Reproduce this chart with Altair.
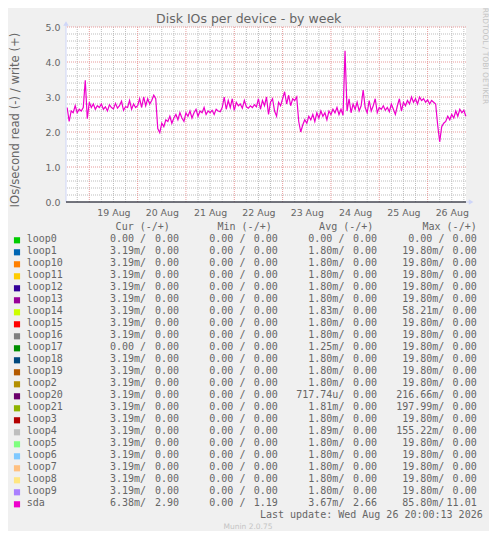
import json
import altair as alt
import pandas as pd

TITLE = "Disk IOs per device - by week"
Y_TITLE = "IOs/second read (-) / write (+)"
SIDE_TEXT = "RRDTOOL / TOBI OETIKER"
LAST_UPDATE = "Last update: Wed Aug 26 20:00:13 2026"
FOOTER = "Munin 2.0.75"

# x axis: hours since 18 Aug 00:00
x_start = 12.43
x_end = 211.07
day_labels = ["19 Aug", "20 Aug", "21 Aug", "22 Aug", "23 Aug", "24 Aug", "25 Aug", "26 Aug"]
day_label_hours = [36, 60, 84, 108, 132, 156, 180, 204]
midnight_hours = [24, 48, 72, 96, 120, 144, 168, 192]
six_hour_hours = [18, 30, 36, 42, 54, 60, 66, 78, 84, 90, 102, 108, 114, 126, 132, 138,
                  150, 156, 162, 174, 180, 186, 198, 204, 210]
y_major = [1, 2, 3, 4, 5]
y_minor = [0.2, 0.4, 0.6, 0.8, 1.2, 1.4, 1.6, 1.8, 2.2, 2.4, 2.6, 2.8, 3.2, 3.4, 3.6, 3.8,
           4.2, 4.4, 4.6, 4.8]
y_tick_values = [0, 1, 2, 3, 4, 5]

# sda write IOs/s, hourly from 18 Aug 13:00
sda_first_hour = 13
sda_write = [
    2.70, 2.30, 2.60, 2.55, 2.75, 2.55, 2.65, 2.60, 2.70, 3.48, 2.38,
    2.85, 2.70, 2.80, 2.65, 2.75, 2.70, 2.80, 2.65, 2.72, 2.60, 2.78, 2.70, 2.66,
    2.82, 2.68, 2.75, 2.88, 2.62, 2.72, 2.70, 2.90, 2.65, 2.80, 2.70, 2.75,
    2.95, 2.70, 3.00, 2.75, 2.95, 2.80, 2.90, 3.05, 2.95,
    2.10, 1.98, 2.25, 2.15, 2.35, 2.30, 2.45, 2.25, 2.40, 2.50, 2.35, 2.55, 2.40,
    2.30, 2.55, 2.45, 2.60, 2.40, 2.55, 2.65, 2.45, 2.60,
    2.55, 2.70, 2.50, 2.60, 2.55, 2.62, 2.50, 2.65, 2.60, 2.58, 2.70,
    3.00, 2.65, 2.90, 2.70, 2.95, 2.62, 2.85, 2.75, 2.80, 2.68,
    2.90, 2.72, 2.68, 2.75, 2.70, 2.78, 2.72, 2.95, 2.65, 2.90,
    2.75, 3.00, 2.50, 2.85, 2.95, 2.60, 2.45, 2.85, 2.75, 2.95, 3.15, 2.80, 3.05,
    2.75, 2.95, 2.90, 3.00,
    2.30, 2.00, 2.20, 2.35, 2.25, 2.45, 2.35, 2.50, 2.30, 2.55, 2.40, 2.60, 2.45,
    2.55, 2.35, 2.60, 2.50, 2.65,
    2.55, 2.70, 2.50, 2.65, 2.48,
    4.32, 2.60,
    2.95, 2.55, 2.80, 2.65, 2.85, 2.60, 2.75, 3.20, 2.70,
    2.55, 2.90, 2.60, 2.75, 2.95, 2.55, 2.70, 2.65, 2.75, 2.62, 2.70, 2.58, 2.80,
    2.65, 2.50, 2.75, 2.95,
    2.60, 2.85, 2.75, 2.90, 2.80, 3.00, 2.85, 2.95, 2.80, 3.00, 2.90, 2.95, 2.85,
    2.92, 2.80, 2.90, 2.85, 2.80,
    2.20, 1.72, 2.15, 2.25,
    2.30, 2.45, 2.35, 2.50, 2.40, 2.60, 2.45, 2.65, 2.55, 2.62, 2.45,
]

# legend table
names = ["loop0", "loop1", "loop10", "loop11", "loop12", "loop13", "loop14", "loop15",
         "loop16", "loop17", "loop18", "loop19", "loop2", "loop20", "loop21", "loop3",
         "loop4", "loop5", "loop6", "loop7", "loop8", "loop9", "sda"]
colors = ["#00CC00", "#0066B3", "#FF8000", "#FFCC00", "#330099", "#990099", "#CCFF00",
          "#FF0000", "#808080", "#008F00", "#00487D", "#B35A00", "#B38F00", "#6B006B",
          "#8FB300", "#B30000", "#BEBEBE", "#80FF80", "#80C9FF", "#FFC080", "#FFE680",
          "#AA80FF", "#EE00CC"]
cur_read = ["0.00 "] + ["3.19m"] * 8 + ["0.00 "] + ["3.19m"] * 12 + ["6.38m"]
cur_write = ["0.00"] * 22 + ["2.90"]
min_read = ["0.00 "] * 23
min_write = ["0.00"] * 22 + ["1.19"]
avg_read = ["0.00 ", "1.80m", "1.80m", "1.80m", "1.80m", "1.80m", "1.83m", "1.80m",
            "1.80m", "1.25m", "1.80m", "1.80m", "1.80m", "717.74u", "1.81m", "1.80m",
            "1.89m", "1.80m", "1.80m", "1.80m", "1.80m", "1.80m", "3.67m"]
avg_write = ["0.00"] * 22 + ["2.66"]
max_read = ["0.00 ", "19.80m", "19.80m", "19.80m", "19.80m", "19.80m", "58.21m", "19.80m",
            "19.80m", "19.80m", "19.80m", "19.80m", "19.80m", "216.66m", "197.99m", "19.80m",
            "155.22m", "19.80m", "19.80m", "19.80m", "19.80m", "19.80m", "85.80m"]
max_write = ["0.00"] * 22 + ["11.01"]
headers = ["Cur (-/+)", "Min (-/+)", "Avg (-/+)", "Max (-/+)"]

FG = "#666666"
AXIS_COL = "#CFD6F8"
SANS = "DejaVu Sans"
MONO = "DejaVu Sans Mono"

xs = alt.Scale(domain=[x_start, x_end], nice=False, zero=False)
ys = alt.Scale(domain=[0, 5], nice=False, zero=False)

label_expr = json.dumps(day_labels) + "[round((datum.value - 36) / 24)]"
x_axis = alt.Axis(values=day_label_hours, labelExpr=label_expr, title="", grid=False,
                  domain=False, ticks=False, labelFont=SANS, labelFontSize=9.4,
                  labelColor=FG, labelPadding=6, labelFlush=False, labelOverlap=False)
y_axis = alt.Axis(values=y_tick_values, format=".1f", title="", grid=False, domain=False,
                  ticks=False, labelFont=SANS, labelFontSize=9.4, labelColor=FG,
                  labelPadding=6, labelOverlap=False, labelFlush=False)

X = alt.X("h:Q", scale=xs, axis=x_axis)
Y = alt.Y("v:Q", scale=ys, axis=y_axis)

minor_v = alt.Chart(pd.DataFrame({"h": six_hour_hours})).mark_rule(
    color="#BDBDBD", strokeDash=[1, 1], strokeWidth=1).encode(x=X)
major_v = alt.Chart(pd.DataFrame({"h": midnight_hours})).mark_rule(
    color="#E89A9A", strokeDash=[1, 1], strokeWidth=1).encode(x=X)
minor_h = alt.Chart(pd.DataFrame({"v": y_minor})).mark_rule(
    color="#BDBDBD", strokeDash=[1, 1], strokeWidth=1).encode(y=Y)
major_h = alt.Chart(pd.DataFrame({"v": y_major})).mark_rule(
    color="#E89A9A", strokeDash=[1, 1], strokeWidth=1).encode(y=Y)

sda_df = pd.DataFrame({"h": [sda_first_hour + i for i in range(len(sda_write))],
                       "v": sda_write})
sda_line = alt.Chart(sda_df).mark_line(color="#EE00CC", strokeWidth=1.2).encode(x=X, y=Y)

left_axis = alt.Chart(pd.DataFrame({"h": [x_start], "v": [0.0], "v2": [5.12]})).mark_rule(
    color=AXIS_COL, strokeWidth=1).encode(x=X, y=Y, y2="v2:Q")
bottom_axis = alt.Chart(pd.DataFrame({"h": [x_start], "h2": [213.2], "v": [0.0]})).mark_rule(
    color=AXIS_COL, strokeWidth=1).encode(x=X, x2="h2:Q", y=Y)
zero_line = alt.Chart(pd.DataFrame({"h": [x_start], "h2": [x_end], "v": [0.0]})).mark_rule(
    color="#000000", strokeWidth=1).encode(x=X, x2="h2:Q", y=Y)
arrow_up = alt.Chart(pd.DataFrame({"h": [x_start], "v": [5.1]})).mark_point(
    shape="triangle-up", filled=True, size=30, color=AXIS_COL, opacity=1).encode(x=X, y=Y)
arrow_right = alt.Chart(pd.DataFrame({"h": [213.6], "v": [0.0]})).mark_point(
    shape="triangle-right", filled=True, size=30, color=AXIS_COL, opacity=1).encode(x=X, y=Y)

main = alt.layer(minor_v, minor_h, major_v, major_h, sda_line, left_axis, bottom_axis,
                 zero_line, arrow_up, arrow_right)

# ---- legend & texts (own y scale: row index -> pixels)
rows = pd.DataFrame({
    "row": list(range(len(names))),
    "name": names,
    "color": colors,
    "cur_r": [s + "/" for s in cur_read],
    "cur_w": cur_write,
    "min_r": [s + "/" for s in min_read],
    "min_w": min_write,
    "avg_r": [s + "/" for s in avg_read],
    "avg_w": avg_write,
    "max_r": [s + "/" for s in max_read],
    "max_w": max_write,
})
yl = alt.Scale(domain=[-1, 24], range=[200.3, 500.3], nice=False, zero=False)
YR = alt.Y("row:Q", scale=yl, axis=None)

base = alt.Chart(rows)
swatch = base.mark_square(size=38, opacity=1, yOffset=1).encode(
    x=alt.value(-49), y=YR, color=alt.Color("color:N", scale=None))
name_txt = base.mark_text(align="left", baseline="middle", font=MONO, fontSize=10,
                          color=FG).encode(x=alt.value(-39.3), y=YR, text="name:N")
col_layers = []
for field, xpos in [("cur_r", 80.1), ("cur_w", 113.0), ("min_r", 179.4), ("min_w", 211.8),
                    ("avg_r", 278.4), ("avg_w", 311.0), ("max_r", 378.4), ("max_w", 410.7)]:
    col_layers.append(base.mark_text(align="right", baseline="middle", font=MONO,
                                     fontSize=10, color=FG).encode(
        x=alt.value(xpos), y=YR, text=f"{field}:N"))

header_layers = []
for htxt, xpos in zip(headers, [103.8, 205.7, 307.3, 410.7]):
    header_layers.append(alt.Chart(pd.DataFrame({"row": [-1], "t": [htxt]})).mark_text(
        align="right", baseline="middle", font=MONO, fontSize=10, color=FG).encode(
        x=alt.value(xpos), y=YR, text="t:N"))

last_upd = alt.Chart(pd.DataFrame({"row": [23], "t": [LAST_UPDATE]})).mark_text(
    align="right", baseline="middle", font=MONO, fontSize=10, color=FG).encode(
    x=alt.value(416.7), y=YR, text="t:N")
footer = alt.Chart(pd.DataFrame({"row": [24], "t": [FOOTER]})).mark_text(
    align="center", baseline="middle", font=SANS, fontSize=7.5, color="#C4C4C4").encode(
    x=alt.value(182), y=YR, text="t:N")

title_txt = alt.Chart(pd.DataFrame({"t": [TITLE]})).mark_text(
    align="center", baseline="middle", font=SANS, fontSize=12.5, color=FG).encode(
    x=alt.value(182.7), y=alt.value(-7.7), text="t:N")
ytitle_txt = alt.Chart(pd.DataFrame({"t": [Y_TITLE]})).mark_text(
    align="center", baseline="middle", font=SANS, fontSize=11.7, color=FG, angle=270).encode(
    x=alt.value(-51.5), y=alt.value(93), text="t:N")
side_txt = alt.Chart(pd.DataFrame({"t": [SIDE_TEXT]})).mark_text(
    align="center", baseline="middle", font=SANS, fontSize=7.5, color="#C4C4C4", angle=90).encode(
    x=alt.value(418.5), y=alt.value(29), text="t:N")

legend = alt.layer(swatch, name_txt, *col_layers, *header_layers, last_upd, footer,
                   title_txt, ytitle_txt, side_txt)

chart = alt.layer(main, legend).resolve_scale(y="independent").properties(
    width=400, height=175,
    autosize=alt.AutoSizeParams(type="none"),
    padding={"left": 58, "top": 19, "right": 23, "bottom": 329},
    background="#F0F0F0",
).configure_view(fill="#FFFFFF", strokeWidth=0)

chart.save("out.html", embed_options={"renderer": "svg", "actions": False})
